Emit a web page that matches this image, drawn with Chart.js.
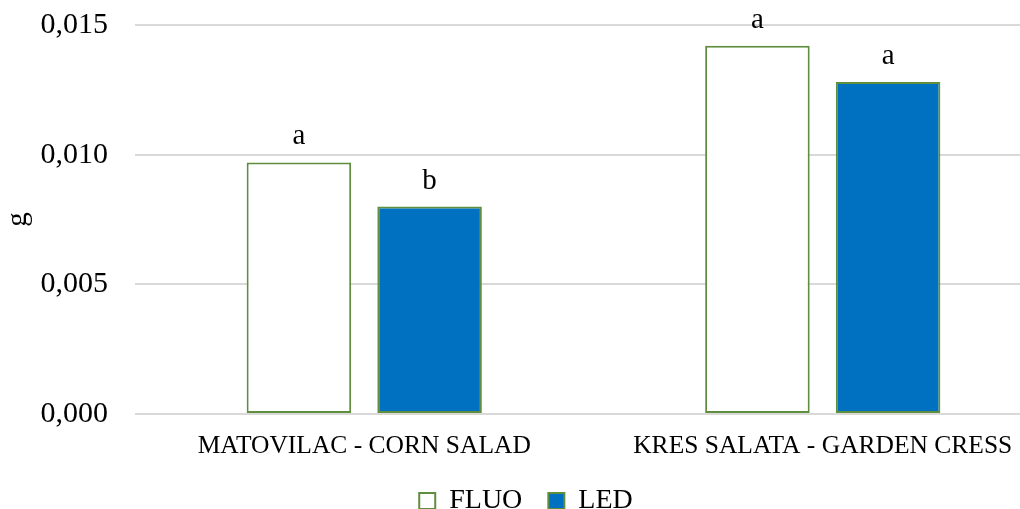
<!DOCTYPE html>
<html>
<head>
<meta charset="utf-8">
<script src="https://cdn.jsdelivr.net/npm/chart.js@4/dist/chart.umd.min.js"></script>
<style>
  body { margin: 0; overflow: hidden; background: #fff; }
</style>
</head>
<body>
<canvas id="myChart" width="1060" height="525"></canvas>
<script>
const categories = ['MATOVILAC - CORN SALAD', 'KRES SALATA - GARDEN CRESS'];
const fluo = [0.0097, 0.0142];
const led = [0.0080, 0.0128];
const fluoLetters = ['a', 'a'];
const ledLetters = ['b', 'a'];
const yTicks = [0, 0.005, 0.010, 0.015];

const green = '#5E8E3E';
const serif = "'Liberation Serif', 'Times New Roman', serif";

// letters above the bars
const letterPlugin = {
  id: 'letters',
  afterDatasetsDraw(chart) {
    const ctx = chart.ctx;
    const sets = [fluoLetters, ledLetters];
    ctx.save();
    ctx.font = '29px ' + serif;
    ctx.fillStyle = '#000';
    ctx.textAlign = 'center';
    ctx.textBaseline = 'alphabetic';
    chart.data.datasets.forEach((ds, i) => {
      const meta = chart.getDatasetMeta(i);
      meta.data.forEach((bar, j) => {
        ctx.fillText(sets[i][j], bar.x, bar.y - 18);
      });
    });
    ctx.restore();
  }
};

const data = {
  labels: categories,
  datasets: [
    {
      label: 'FLUO',
      data: fluo,
      backgroundColor: '#FFFFFF',
      borderColor: green,
      borderWidth: 2,
      borderSkipped: false
    },
    {
      label: 'LED',
      data: led,
      backgroundColor: '#0070C0',
      borderColor: green,
      borderWidth: 2,
      borderSkipped: false
    }
  ]
};

const config = {
  type: 'bar',
  data: data,
  plugins: [letterPlugin],
  options: {
    responsive: false,
    animation: false,
    devicePixelRatio: 1,
    layout: { padding: { top: 25, right: 8, left: 0, bottom: 0 } },
    categoryPercentage: 0.57,
    barPercentage: 0.80,
    plugins: {
      tooltip: { enabled: false },
      legend: {
        position: 'bottom',
        labels: {
          color: '#000',
          font: { family: serif, size: 28 },
          boxWidth: 16,
          boxHeight: 16,
          padding: 26
        }
      }
    },
    scales: {
      x: {
        grid: { display: false },
        border: { display: false },
        ticks: {
          color: '#000',
          font: { family: serif, size: 25.5 },
          padding: 9,
          maxRotation: 0
        },
        afterFit(scale) { scale.height = 47; }
      },
      y: {
        min: 0,
        max: 0.015,
        afterBuildTicks(scale) {
          scale.ticks = yTicks.map(v => ({ value: v }));
        },
        grid: {
          color: '#D9D9D9',
          lineWidth: 2,
          drawTicks: true,
          tickLength: 27,
          tickColor: 'rgba(0,0,0,0)'
        },
        border: { display: false },
        ticks: {
          color: '#000',
          font: { family: serif, size: 30 },
          padding: 0,
          callback: v => v.toFixed(3).replace('.', ',')
        },
        title: {
          display: true,
          text: 'g',
          color: '#000',
          font: { family: serif, size: 29 },
          padding: { top: 1, bottom: 0 }
        },
        afterFit(scale) { scale.width = 135; }
      }
    }
  }
};

const myChart = new Chart(document.getElementById('myChart'), config);
</script>
</body>
</html>
